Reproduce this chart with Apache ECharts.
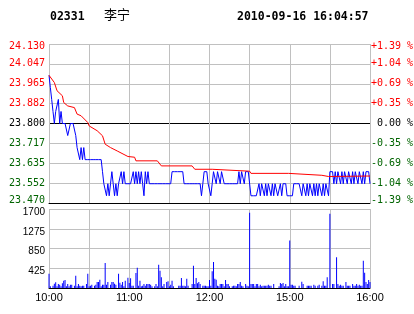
<!DOCTYPE html>
<html><head><meta charset="utf-8">
<script src="https://cdn.jsdelivr.net/npm/echarts@6/dist/echarts.min.js"></script>
<style>html,body{margin:0;padding:0;background:#fff}#c{width:414px;height:314px}</style>
</head><body><div id="c"></div>
<script>
// ---- text ----
const stockCode = '02331';
const stockName = '李宁';
const timestamp = '2010-09-16 16:04:57';

// ---- tick labels ----
const priceTickLabels = ['23.470','23.552','23.635','23.717','23.800','23.882','23.965','24.047','24.130'];
const pctTickLabels = ['-1.39 %','-1.04 %','-0.69 %','-0.35 %',' 0.00 %','+0.35 %','+0.69 %','+1.04 %','+1.39 %'];
const volTickLabels = ['', '425', '850', '1275', '1700'];
const timeTicks = [0, 60, 120, 180, 240];
const timeLabels = ['10:00', '11:00', '12:00', '15:00', '16:00'];

// ---- scale ranges ----
const priceMin = 23.470, priceMax = 24.130;
const volMax = 1700, volStep = 425;
const minuteMax = 240, minuteStep = 30;

// ---- price per minute (index 0 = 10:00, 150 = 12:30/14:30, 240 = 16:00) ----
const price = [
  24.00,23.95,23.90,23.85,23.80,23.85,23.85,23.90,23.80,23.85,
  23.80,23.80,23.80,23.80,23.75,23.75,23.80,23.80,23.80,23.80,
  23.75,23.70,23.70,23.65,23.70,23.65,23.70,23.65,23.65,23.65,
  23.65,23.65,23.65,23.65,23.65,23.65,23.65,23.65,23.65,23.65,
  23.60,23.55,23.55,23.50,23.55,23.50,23.55,23.60,23.55,23.50,
  23.55,23.50,23.55,23.55,23.60,23.55,23.60,23.55,23.55,23.55,
  23.55,23.55,23.55,23.60,23.55,23.60,23.55,23.60,23.55,23.60,
  23.55,23.50,23.60,23.55,23.60,23.55,23.55,23.55,23.55,23.55,
  23.55,23.55,23.55,23.55,23.55,23.55,23.55,23.55,23.55,23.55,
  23.55,23.55,23.60,23.60,23.60,23.60,23.60,23.60,23.60,23.60,
  23.60,23.55,23.55,23.55,23.55,23.55,23.55,23.55,23.55,23.55,
  23.55,23.55,23.55,23.55,23.50,23.55,23.60,23.60,23.60,23.55,
  23.55,23.50,23.55,23.60,23.60,23.55,23.60,23.60,23.55,23.60,
  23.60,23.55,23.55,23.55,23.55,23.55,23.55,23.55,23.55,23.55,
  23.55,23.55,23.60,23.55,23.60,23.60,23.55,23.60,23.60,23.60,
  23.60,23.50,23.50,23.50,23.50,23.50,23.50,23.55,23.50,23.55,
  23.55,23.50,23.55,23.50,23.55,23.55,23.50,23.55,23.50,23.55,
  23.55,23.50,23.50,23.55,23.50,23.55,23.55,23.55,23.50,23.50,
  23.50,23.50,23.50,23.55,23.55,23.55,23.55,23.55,23.55,23.50,
  23.55,23.55,23.50,23.55,23.50,23.55,23.55,23.50,23.55,23.50,
  23.55,23.50,23.55,23.55,23.50,23.55,23.50,23.55,23.55,23.50,
  23.60,23.60,23.60,23.55,23.60,23.55,23.60,23.60,23.55,23.60,
  23.55,23.60,23.60,23.55,23.60,23.60,23.55,23.60,23.55,23.60,
  23.60,23.55,23.60,23.60,23.55,23.60,23.55,23.60,23.60,23.60,
  23.55
];

// ---- average price (read at these minutes) ----
const avgMinute = [0,4,6,10,11,14,19,21,24,29,30,36,40,42,46,51,59,64,65,81,84,107,109,122,123,150,151,179,180,204,205,209,210,240];
const avgValue  = [24.00,23.970,23.936,23.915,23.887,23.873,23.866,23.839,23.832,23.804,23.790,23.770,23.749,23.714,23.700,23.686,23.663,23.660,23.645,23.645,23.624,23.624,23.610,23.610,23.602,23.602,23.593,23.593,23.585,23.585,23.580,23.580,23.582,23.582];

// ---- volume per minute ----
const volume = [
  308,36,0,50,93,122,36,86,72,36,
  100,158,172,36,86,36,72,72,0,50,
  265,36,86,50,36,50,50,0,86,308,
  36,50,72,0,50,72,129,129,180,36,
  72,72,538,72,129,0,72,129,129,93,
  72,0,308,115,72,129,36,158,0,220,
  108,208,50,50,0,323,437,50,158,36,
  50,86,50,86,86,86,72,36,0,36,
  86,36,502,373,230,36,86,0,129,143,
  36,72,158,36,0,0,0,50,50,215,
  50,50,36,200,50,0,0,86,480,86,
  215,100,129,86,0,50,50,50,36,36,
  172,50,360,560,200,180,50,36,86,86,
  86,36,172,86,86,36,0,36,50,50,
  36,86,86,129,50,36,0,86,50,36,
  1620,86,86,86,36,86,86,36,72,36,
  50,50,50,50,72,50,50,0,86,0,
  0,0,36,108,86,108,36,86,36,36,
  1024,72,72,50,50,0,0,50,0,136,
  86,0,0,50,50,50,50,0,72,50,
  0,50,72,0,50,143,50,50,230,0,
  1598,0,86,86,0,660,86,50,72,50,
  50,0,129,50,50,50,0,86,50,50,
  86,50,72,50,50,588,330,129,86,172,
  129
];

// ---- styles ----
const RED = '#ff0000', GREEN = '#006400', BLUE = '#0000ff', GRID = '#c0c0c0';
const monoFont = 'DejaVu Sans Mono';
const sansFont = '"Liberation Sans", Arial, sans-serif';
function levelTag(i, n) { return i === n ? 'rt' : i > n / 2 ? 'r' : i === n / 2 ? 'k' : i === 0 ? 'gb' : 'g'; }
const lvlRich = {
  rt: { color: RED, fontFamily: monoFont, fontSize: 10, padding: [5, 0, 0, 0] },
  r:  { color: RED, fontFamily: monoFont, fontSize: 10 },
  k:  { color: '#000', fontFamily: monoFont, fontSize: 10 },
  g:  { color: GREEN, fontFamily: monoFont, fontSize: 10 },
  gb: { color: GREEN, fontFamily: monoFont, fontSize: 10, padding: [0, 0, 6, 0] }
};
const nLv = priceTickLabels.length - 1;
const priceSplitColors = priceTickLabels.map((_, i) => (i === 0 || i === nLv / 2) ? '#000' : GRID);

const chart = echarts.init(document.getElementById('c'), null, { renderer: 'canvas' });
chart.setOption({
  animation: false,
  backgroundColor: '#fff',
  title: [
    { text: stockCode, left: 50, top: 11, padding: 0,
      textStyle: { fontFamily: monoFont, fontWeight: 'bold', fontSize: 11.5, color: '#000' } },
    { text: stockName, left: 104, top: 8, padding: 0,
      textStyle: { fontFamily: '"Noto Sans CJK SC"', fontWeight: 'normal', fontSize: 13, color: '#000' } },
    { text: timestamp, left: 237, top: 11, padding: 0,
      textStyle: { fontFamily: monoFont, fontWeight: 'bold', fontSize: 11.5, color: '#000' } }
  ],
  grid: [
    { left: 49, top: 44, width: 321, height: 159, containLabel: false, outerBoundsMode: 'none' },
    { left: 49, top: 209, width: 321, height: 79, containLabel: false, outerBoundsMode: 'none' }
  ],
  xAxis: [
    { type: 'value', gridIndex: 0, min: 0, max: minuteMax, interval: minuteStep,
      axisLine: { show: true, onZero: false, lineStyle: { color: '#000', width: 1 } },
      axisTick: { show: false }, axisLabel: { show: false },
      splitLine: { show: true, lineStyle: { color: GRID, width: 1 } } },
    { type: 'value', gridIndex: 1, min: 0, max: minuteMax, interval: minuteStep,
      axisLine: { show: true, onZero: false, lineStyle: { color: '#000', width: 1 } },
      axisTick: { show: false },
      axisLabel: { show: true, margin: 4, color: '#000', fontFamily: sansFont, fontSize: 11,
        showMinLabel: true, showMaxLabel: true, hideOverlap: false,
        formatter: v => { const k = timeTicks.indexOf(Math.round(v)); return k >= 0 ? timeLabels[k] : ''; } },
      splitLine: { show: true, lineStyle: { color: GRID, width: 1 } } }
  ],
  yAxis: [
    { type: 'value', gridIndex: 0, position: 'left', min: 0, max: nLv, interval: 1,
      axisLine: { show: false }, axisTick: { show: false },
      axisLabel: { show: true, margin: 4, rich: lvlRich,
        formatter: v => { const i = Math.round(v); return '{' + levelTag(i, nLv) + '|' + priceTickLabels[i] + '}'; } },
      splitLine: { show: true, lineStyle: { color: priceSplitColors, width: 1 } } },
    { type: 'value', gridIndex: 0, min: priceMin, max: priceMax, show: false },
    { type: 'value', gridIndex: 0, position: 'right', min: 0, max: nLv, interval: 1,
      axisLine: { show: false }, axisTick: { show: false },
      axisLabel: { show: true, margin: 1, align: 'left', rich: lvlRich,
        formatter: v => { const i = Math.round(v); return '{' + levelTag(i, nLv) + '|' + pctTickLabels[i] + '}'; } },
      splitLine: { show: false } },
    { type: 'value', gridIndex: 1, min: 0, max: volMax, interval: volStep,
      axisLine: { show: false }, axisTick: { show: false },
      axisLabel: { show: true, margin: 4, color: '#000', fontFamily: sansFont, fontSize: 10,
        rich: { v: { color: '#000', fontFamily: sansFont, fontSize: 10, padding: [6, 0, 0, 0] } },
        formatter: v => { const s = volTickLabels[Math.round(v / volStep)]; return s ? '{v|' + s + '}' : ''; } },
      splitLine: { show: true, lineStyle: { color: volTickLabels.map((_, i) => i === 0 ? '#000' : GRID), width: 1 } } }
  ],
  series: [
    { type: 'line', name: 'price', xAxisIndex: 0, yAxisIndex: 1,
      data: price.map((v, i) => [i, v]), showSymbol: false, symbol: 'none',
      lineStyle: { color: BLUE, width: 1 }, z: 3 },
    { type: 'line', name: 'avg', xAxisIndex: 0, yAxisIndex: 1,
      data: avgMinute.map((m, k) => [m, avgValue[k]]), showSymbol: false, symbol: 'none',
      lineStyle: { color: RED, width: 1 }, z: 4 },
    { type: 'bar', name: 'volume', xAxisIndex: 1, yAxisIndex: 3,
      data: volume.map((v, i) => [i, v]), barWidth: 1,
      itemStyle: { color: BLUE }, z: 3 }
  ]
});
</script></body></html>
